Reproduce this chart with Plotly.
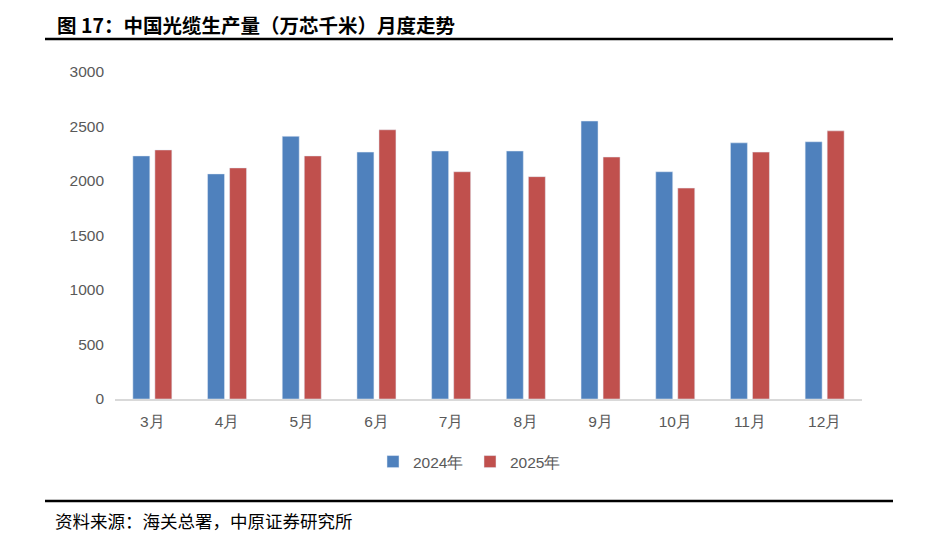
import plotly.graph_objects as go

months = ["3月", "4月", "5月", "6月", "7月", "8月", "9月", "10月", "11月", "12月"]
output_2024 = [2230, 2065, 2410, 2265, 2275, 2275, 2550, 2085, 2350, 2360]
output_2025 = [2285, 2120, 2230, 2470, 2085, 2040, 2220, 1935, 2265, 2460]

W, H = 940, 553
OFF = 8  # page body margin
L, R, T, B = 115 - OFF, 78 + OFF, 72 - OFF, 154 + OFF
pw, ph = W - L - R, H - T - B


def px(x):  # screen pixel x -> paper x
    return (x - OFF - L) / pw


def py(y):  # screen pixel y -> paper y
    return (H - B - (y - OFF)) / ph


tick_font = dict(family="Liberation Sans, Arial", size=15.5, color="#595959")

fig = go.Figure()
fig.add_bar(x=months, y=output_2024, name="2024年", marker_color="#4F81BD")
fig.add_bar(x=months, y=output_2025, name="2025年", marker_color="#C0504D")

fig.update_layout(
    width=W, height=H,
    margin=dict(l=L, r=R, t=T, b=B),
    plot_bgcolor="white", paper_bgcolor="white",
    barmode="group", bargap=0.41, bargroupgap=0.23,
    showlegend=True,
    legend=dict(orientation="h", xref="container", yref="container",
                x=(470 - OFF) / W, xanchor="center",
                y=1 - (462 - OFF) / H, yanchor="middle",
                font=tick_font, itemwidth=30, entrywidth=52,
                traceorder="normal"),
    xaxis=dict(showline=True, linecolor="#D9D9D9", linewidth=1.5,
               tickfont=tick_font, ticks="", showgrid=False,
               ticklabelstandoff=8),
    yaxis=dict(range=[0, 3000], dtick=500, showgrid=False, showline=False,
               zeroline=False, tickfont=tick_font, ticks="",
               ticklabelstandoff=10),
)

# title and footer
fig.add_annotation(text="<b>图 17：中国光缆生产量（万芯千米）月度走势</b>",
                   xref="paper", yref="paper", x=px(55), y=py(25),
                   xanchor="left", yanchor="middle", showarrow=False,
                   font=dict(family="Noto Sans CJK SC", size=19.5, color="#000000"))
fig.add_annotation(text="资料来源：海关总署，中原证券研究所",
                   xref="paper", yref="paper", x=px(53), y=py(520),
                   xanchor="left", yanchor="middle", showarrow=False,
                   font=dict(family="Noto Sans CJK SC", size=17.5, color="#000000"))
fig.add_shape(type="line", xref="paper", yref="paper",
              x0=px(45), x1=px(893), y0=py(39), y1=py(39),
              line=dict(color="black", width=2.5))
fig.add_shape(type="line", xref="paper", yref="paper",
              x0=px(45), x1=px(893), y0=py(501), y1=py(501),
              line=dict(color="black", width=2.5))

fig.write_html("out.html")
